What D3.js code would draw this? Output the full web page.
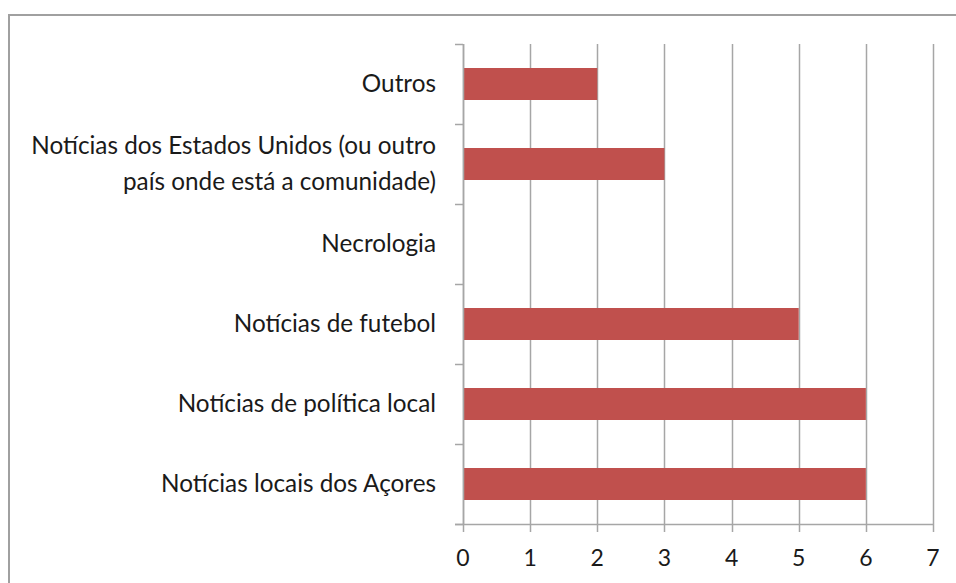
<!DOCTYPE html>
<html>
<head>
<meta charset="utf-8">
<script src="https://cdn.jsdelivr.net/npm/d3@7"></script>
<style>
  body { margin: 0; background: #fff; }
  svg { display: block; }
</style>
</head>
<body>
<div id="chart"></div>
<script>
var categories = [
  "Outros",
  "Notícias dos Estados Unidos (ou outro|país onde está a comunidade)",
  "Necrologia",
  "Notícias de futebol",
  "Notícias de política local",
  "Notícias locais dos Açores"
];
var values = [2, 3, 0, 5, 6, 6];
var xTicks = [0, 1, 2, 3, 4, 5, 6, 7];

var width = 956, height = 583;
var plotLeft = 463, plotRight = 933, plotTop = 44, plotBottom = 524;
var gridColor = "#a6a6a6";
var font = "Lato, 'Open Sans', sans-serif";

var svg = d3.select("#chart").append("svg")
    .attr("width", width)
    .attr("height", height);

// outer chart border (cropped at right/bottom)
svg.append("rect")
    .attr("x", 9).attr("y", 15)
    .attr("width", 1000).attr("height", 1000)
    .attr("fill", "none")
    .attr("stroke", "#a0a0a0")
    .attr("stroke-width", 2);

var x = d3.scaleLinear().domain([0, 7]).range([plotLeft, plotRight]);
var y = d3.scaleBand().domain(categories).range([plotTop, plotBottom]).padding(0);

// vertical gridlines + bottom ticks
svg.append("g")
    .selectAll("line")
    .data(xTicks)
    .enter().append("line")
      .attr("x1", function(d) { return Math.round(x(d)) + 0.5; })
      .attr("x2", function(d) { return Math.round(x(d)) + 0.5; })
      .attr("y1", plotTop)
      .attr("y2", plotBottom + 8)
      .attr("stroke", gridColor)
      .attr("stroke-width", 1.5);

// bars
var barH = 32;
svg.append("g")
    .selectAll("rect")
    .data(values)
    .enter().append("rect")
      .attr("x", x(0))
      .attr("y", function(d, i) { return y(categories[i]) + (y.bandwidth() - barH) / 2; })
      .attr("width", function(d) { return x(d) - x(0); })
      .attr("height", barH)
      .attr("fill", "#c0504d");

// y axis line + ticks
var yEdges = categories.map(function(c) { return y(c); }).concat([plotBottom]);
svg.append("line")
    .attr("x1", plotLeft + 0.5).attr("x2", plotLeft + 0.5)
    .attr("y1", plotTop).attr("y2", plotBottom)
    .attr("stroke", gridColor).attr("stroke-width", 1.5);
svg.append("g")
    .selectAll("line")
    .data(yEdges)
    .enter().append("line")
      .attr("x1", plotLeft - 8).attr("x2", plotLeft)
      .attr("y1", function(d) { return Math.round(d) + 0.5; })
      .attr("y2", function(d) { return Math.round(d) + 0.5; })
      .attr("stroke", gridColor).attr("stroke-width", 1.5);

// x axis line
svg.append("line")
    .attr("x1", plotLeft - 8).attr("x2", plotRight + 0.5)
    .attr("y1", plotBottom + 0.5).attr("y2", plotBottom + 0.5)
    .attr("stroke", gridColor).attr("stroke-width", 1.5);

// x tick labels
svg.append("g")
    .selectAll("text")
    .data(xTicks)
    .enter().append("text")
      .attr("x", function(d) { return x(d); })
      .attr("y", 566)
      .attr("text-anchor", "middle")
      .attr("font-family", font)
      .attr("font-size", 23)
      .attr("fill", "#1a1a1a")
      .text(function(d) { return d; });

// category labels
var labelX = 436;
var labels = svg.append("g")
    .selectAll("text")
    .data(categories)
    .enter().append("text")
      .attr("x", labelX)
      .attr("y", function(d) { return y(d) + y.bandwidth() / 2; })
      .attr("text-anchor", "end")
      .attr("font-family", font)
      .attr("font-size", 24.3)
      .attr("fill", "#1a1a1a");

labels.each(function(d) {
  var lines = d.split("|");
  var t = d3.select(this);
  var lh = 36.5;
  var start = -(lines.length - 1) * lh / 2;
  lines.forEach(function(line, i) {
    t.append("tspan")
      .attr("x", labelX)
      .attr("dy", i === 0 ? (start + 8) : lh)
      .text(line);
  });
});
</script>
</body>
</html>
